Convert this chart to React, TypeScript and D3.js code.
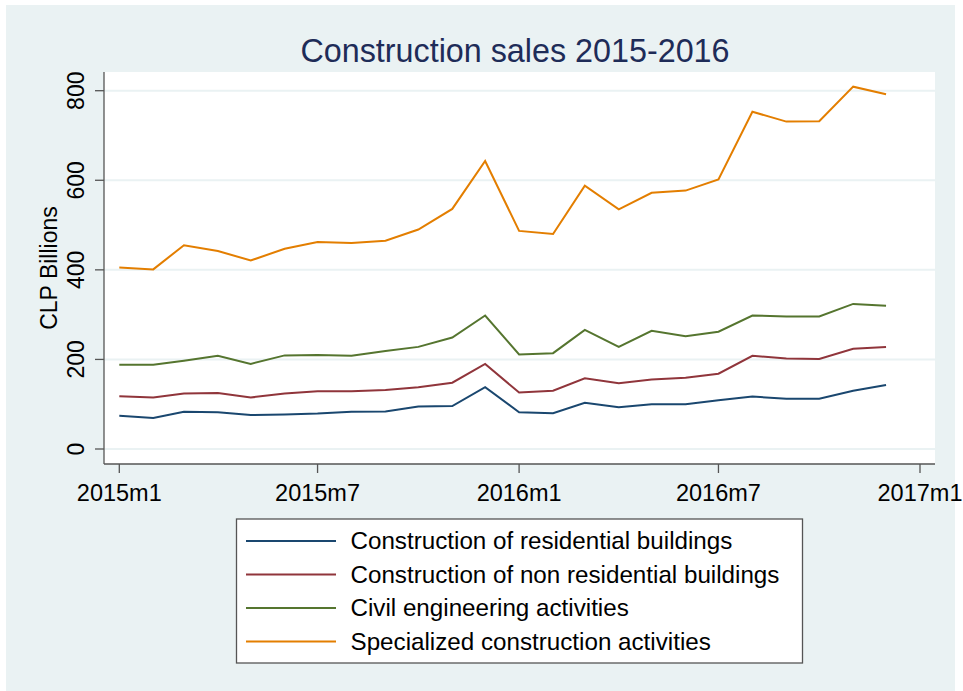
import React from "react";
import * as d3 from "d3";

const months = d3.range(24).map((i) => new Date(2015, i, 1));
const residential = [74, 69, 83, 82, 76, 77, 79, 83, 84, 95, 96, 138, 82, 80, 103, 93, 100, 100, 109, 117, 112, 112, 130, 143];
const nonResidential = [118, 115, 124, 125, 115, 124, 129, 129, 132, 138, 148, 190, 126, 130, 158, 147, 155, 159, 168, 208, 202, 201, 224, 228];
const civil = [188, 188, 197, 208, 190, 209, 210, 208, 219, 228, 249, 298, 211, 214, 266, 228, 264, 252, 262, 298, 296, 296, 324, 320];
const specialized = [405, 401, 455, 442, 421, 447, 462, 460, 465, 490, 536, 643, 487, 480, 588, 535, 572, 577, 602, 753, 731, 732, 809, 792];
const seriesNames = [
  "Construction of residential buildings",
  "Construction of non residential buildings",
  "Civil engineering activities",
  "Specialized construction activities",
];
const seriesColors = ["#1a476f", "#90353b", "#55752f", "#e37e00"];
const yTicks = [0, 200, 400, 600, 800];
const xTickDates = [new Date(2015, 0, 1), new Date(2015, 6, 1), new Date(2016, 0, 1), new Date(2016, 6, 1), new Date(2017, 0, 1)];
const xTickLabels = ["2015m1", "2015m7", "2016m1", "2016m7", "2017m1"];

const W = 963;
const H = 691;
const plot = { left: 104, right: 935, top: 72, bottom: 464 };
const font = "'Liberation Sans', Arial, sans-serif";

export default function App() {
  const x = d3.scaleTime().domain([new Date(2015, 0, 1), new Date(2017, 0, 1)]).range([119.3, 920]);
  const y = d3.scaleLinear().domain([0, 800]).range([449, 90.7]);
  const allSeries = [residential, nonResidential, civil, specialized];
  const line = d3
    .line<number>()
    .x((_, i) => x(months[i]))
    .y((d) => y(d));

  const legendRowY = [541, 574.5, 608, 641.5];

  return (
    <svg
      width={W}
      height={H}
      style={{ position: "absolute", left: 0, top: 0, background: "#ffffff" }}
      fontFamily={font}
    >
      <rect x={6} y={5} width={949} height={H - 5} fill="#eaf2f3" />
      <rect x={plot.left} y={plot.top} width={plot.right - plot.left} height={plot.bottom - plot.top} fill="#ffffff" />
      {yTicks.map((t) => (
        <line key={"g" + t} x1={plot.left} x2={plot.right} y1={y(t)} y2={y(t)} stroke="#eaf2f3" strokeWidth={2} />
      ))}
      {allSeries.map((s, k) => (
        <path key={"s" + k} d={line(s) || ""} fill="none" stroke={seriesColors[k]} strokeWidth={2} strokeLinejoin="miter" />
      ))}
      <line x1={plot.left} x2={plot.left} y1={plot.top} y2={plot.bottom} stroke="#555" strokeWidth={1.3} />
      <line x1={plot.left} x2={plot.right} y1={plot.bottom} y2={plot.bottom} stroke="#555" strokeWidth={1.3} />
      {yTicks.map((t) => (
        <g key={"yt" + t}>
          <line x1={plot.left - 9} x2={plot.left} y1={y(t)} y2={y(t)} stroke="#555" strokeWidth={1.3} />
          <text transform={`translate(83.5,${y(t)}) rotate(-90)`} textAnchor="middle" fontSize={23} fill="#000">
            {t}
          </text>
        </g>
      ))}
      {xTickDates.map((d, i) => (
        <g key={"xt" + i}>
          <line x1={x(d)} x2={x(d)} y1={plot.bottom} y2={plot.bottom + 9} stroke="#555" strokeWidth={1.3} />
          <text x={x(d)} y={500.7} textAnchor="middle" fontSize={23.5} fill="#000">
            {xTickLabels[i]}
          </text>
        </g>
      ))}
      <text transform={`translate(56.5,${(plot.top + plot.bottom) / 2}) rotate(-90)`} textAnchor="middle" fontSize={23} fill="#000">
        CLP Billions
      </text>
      <text x={515} y={61.7} textAnchor="middle" fontSize={32.3} fill="#1e2c58">
        Construction sales 2015-2016
      </text>
      <rect x={236.5} y={519} width={566} height={144} fill="#ffffff" stroke="#555" strokeWidth={1.3} />
      {seriesNames.map((n, k) => (
        <g key={"l" + k}>
          <line x1={246} x2={336} y1={legendRowY[k]} y2={legendRowY[k]} stroke={seriesColors[k]} strokeWidth={2} />
          <text x={350.5} y={legendRowY[k] + 8.3} fontSize={24.2} fill="#000">
            {n}
          </text>
        </g>
      ))}
    </svg>
  );
}
